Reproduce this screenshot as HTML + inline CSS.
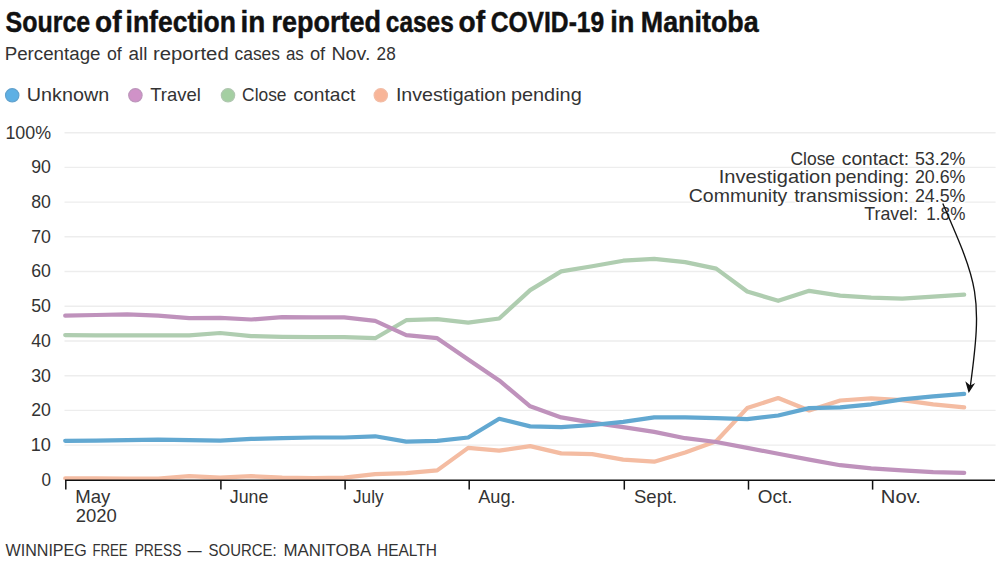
<!DOCTYPE html>
<html lang="en">
<head>
<meta charset="utf-8">
<title>Source of infection in reported cases of COVID-19 in Manitoba</title>
<style>
html,body{margin:0;padding:0;background:#fff;}
body{width:1000px;height:561px;overflow:hidden;}
svg{display:block;}
svg text{font-family:"Liberation Sans",sans-serif;fill:#333;white-space:pre;}
svg text.ttl{font-size:28.6px;font-weight:bold;fill:#111;stroke:#111;stroke-width:0.45px;}
svg text.sub{font-size:18.0px;}
svg text.lg{font-size:18.2px;}
svg text.ax{font-size:18.2px;}
svg text.ft{font-size:16.2px;}
svg text.an{paint-order:stroke;stroke:#fff;stroke-width:3px;stroke-linejoin:round;}
</style>
</head>
<body>
<svg width="1000" height="561" viewBox="0 0 1000 561">
<g stroke="#ededed" stroke-width="1.4"><line x1="64.5" x2="995.6" y1="445.1" y2="445.1"/><line x1="64.5" x2="995.6" y1="410.4" y2="410.4"/><line x1="64.5" x2="995.6" y1="375.7" y2="375.7"/><line x1="64.5" x2="995.6" y1="341.0" y2="341.0"/><line x1="64.5" x2="995.6" y1="306.2" y2="306.2"/><line x1="64.5" x2="995.6" y1="271.5" y2="271.5"/><line x1="64.5" x2="995.6" y1="236.8" y2="236.8"/><line x1="64.5" x2="995.6" y1="202.1" y2="202.1"/><line x1="64.5" x2="995.6" y1="167.4" y2="167.4"/><line x1="64.5" x2="995.6" y1="132.7" y2="132.7"/></g>
<circle cx="12.2" cy="95.3" r="6.7" fill="#5eb0e4" stroke="#62a2cd" stroke-width="1.2"/><circle cx="135.4" cy="95.3" r="6.7" fill="#d092c8" stroke="#bd97bc" stroke-width="1.2"/><circle cx="228.0" cy="95.3" r="6.7" fill="#a4cfa2" stroke="#b0c7b0" stroke-width="1.2"/><circle cx="380.8" cy="95.3" r="6.7" fill="#f8b598" stroke="#f2bda6" stroke-width="1.2"/>
<g fill="none" stroke-width="4.2" stroke-linecap="round" stroke-linejoin="round">
<path stroke="#afcdb0" d="M65.2,335.1 L96.2,335.4 L127.2,335.4 L158.2,335.4 L189.2,335.4 L220.2,333.0 L251.2,336.1 L282.2,336.8 L313.2,337.1 L344.2,337.1 L375.2,338.2 L406.2,320.2 L437.2,319.1 L468.2,322.6 L499.2,318.5 L530.2,290.1 L561.2,271.4 L592.2,266.2 L623.2,260.7 L654.2,258.9 L685.2,262.1 L716.2,268.6 L747.2,291.5 L778.2,300.8 L809.2,290.8 L840.2,295.6 L871.2,297.7 L902.2,298.7 L933.2,296.7 L964.2,294.6"/>
<path stroke="#f4bca2" d="M65.2,478.3 L96.2,478.3 L127.2,478.5 L158.2,478.5 L189.2,476.2 L220.2,477.6 L251.2,476.2 L282.2,477.6 L313.2,478.0 L344.2,477.6 L375.2,474.2 L406.2,473.1 L437.2,470.4 L468.2,447.9 L499.2,450.6 L530.2,446.1 L561.2,453.4 L592.2,454.1 L623.2,459.6 L654.2,461.7 L685.2,452.4 L716.2,441.3 L747.2,408.1 L778.2,398.0 L809.2,410.5 L840.2,400.5 L871.2,398.4 L902.2,400.1 L933.2,404.3 L964.2,407.4"/>
<path stroke="#bf92bc" d="M65.2,315.7 L96.2,315.0 L127.2,314.3 L158.2,315.7 L189.2,318.1 L220.2,317.8 L251.2,319.5 L282.2,317.1 L313.2,317.4 L344.2,317.4 L375.2,320.9 L406.2,335.1 L437.2,338.2 L468.2,359.6 L499.2,380.4 L530.2,406.3 L561.2,417.4 L592.2,422.6 L623.2,427.1 L654.2,431.9 L685.2,438.2 L716.2,442.0 L747.2,447.9 L778.2,453.7 L809.2,459.6 L840.2,465.2 L871.2,468.3 L902.2,470.4 L933.2,472.1 L964.2,472.9"/>
<path stroke="#62a8d1" d="M65.2,440.8 L96.2,440.6 L127.2,440.2 L158.2,439.6 L189.2,440.2 L220.2,440.6 L251.2,438.9 L282.2,438.2 L313.2,437.5 L344.2,437.5 L375.2,436.3 L406.2,441.6 L437.2,440.9 L468.2,437.5 L499.2,418.8 L530.2,426.4 L561.2,427.1 L592.2,425.0 L623.2,421.9 L654.2,417.4 L685.2,417.4 L716.2,418.1 L747.2,419.1 L778.2,415.5 L809.2,408.1 L840.2,407.4 L871.2,404.3 L902.2,399.4 L933.2,396.3 L964.2,393.9"/>
</g>
<g stroke="#111" stroke-width="1.5"><line x1="65" x2="995" y1="480.3" y2="480.3"/><line x1="65.8" x2="65.8" y1="480.3" y2="489.6"/><line x1="220.9" x2="220.9" y1="480.3" y2="489.6"/><line x1="345.1" x2="345.1" y1="480.3" y2="489.6"/><line x1="469.2" x2="469.2" y1="480.3" y2="489.6"/><line x1="624.3" x2="624.3" y1="480.3" y2="489.6"/><line x1="748.5" x2="748.5" y1="480.3" y2="489.6"/><line x1="872.6" x2="872.6" y1="480.3" y2="489.6"/></g>
<text class="ttl" y="31.7"><tspan x="5.50" textLength="84.69" lengthAdjust="spacingAndGlyphs">Source</tspan> <tspan x="95.12" textLength="26.41" lengthAdjust="spacingAndGlyphs">of</tspan> <tspan x="125.55" textLength="110.41" lengthAdjust="spacingAndGlyphs">infection</tspan> <tspan x="240.45" textLength="24.78" lengthAdjust="spacingAndGlyphs">in</tspan> <tspan x="271.46" textLength="109.43" lengthAdjust="spacingAndGlyphs">reported</tspan> <tspan x="385.85" textLength="67.93" lengthAdjust="spacingAndGlyphs">cases</tspan> <tspan x="458.52" textLength="26.51" lengthAdjust="spacingAndGlyphs">of</tspan> <tspan x="490.64" textLength="113.64" lengthAdjust="spacingAndGlyphs">COVID-19</tspan> <tspan x="610.20" textLength="24.20" lengthAdjust="spacingAndGlyphs">in</tspan> <tspan x="640.76" textLength="117.91" lengthAdjust="spacingAndGlyphs">Manitoba</tspan></text>
<text class="sub" y="59.6"><tspan x="4.66" textLength="95.85" lengthAdjust="spacingAndGlyphs">Percentage</tspan> <tspan x="107.00" textLength="14.81" lengthAdjust="spacingAndGlyphs">of</tspan> <tspan x="128.60" textLength="18.85" lengthAdjust="spacingAndGlyphs">all</tspan> <tspan x="152.97" textLength="75.77" lengthAdjust="spacingAndGlyphs">reported</tspan> <tspan x="234.50" textLength="45.50" lengthAdjust="spacingAndGlyphs">cases</tspan> <tspan x="285.90" textLength="17.90" lengthAdjust="spacingAndGlyphs">as</tspan> <tspan x="309.90" textLength="15.28" lengthAdjust="spacingAndGlyphs">of</tspan> <tspan x="331.41" textLength="38.99" lengthAdjust="spacingAndGlyphs">Nov.</tspan> <tspan x="376.60" textLength="19.11" lengthAdjust="spacingAndGlyphs">28</tspan></text>
<text class="lg" y="100.8"><tspan x="26.81" textLength="82.40" lengthAdjust="spacingAndGlyphs">Unknown</tspan></text>
<text class="lg" y="100.8"><tspan x="150.20" textLength="50.66" lengthAdjust="spacingAndGlyphs">Travel</tspan></text>
<text class="lg" y="100.8"><tspan x="242.10" textLength="44.41" lengthAdjust="spacingAndGlyphs">Close</tspan> <tspan x="293.50" textLength="61.86" lengthAdjust="spacingAndGlyphs">contact</tspan></text>
<text class="lg" y="100.8"><tspan x="395.92" textLength="110.28" lengthAdjust="spacingAndGlyphs">Investigation</tspan> <tspan x="510.91" textLength="70.81" lengthAdjust="spacingAndGlyphs">pending</tspan></text>
<text class="ft" y="555.8"><tspan x="5.60" textLength="81.19" lengthAdjust="spacingAndGlyphs">WINNIPEG</tspan> <tspan x="92.38" textLength="35.25" lengthAdjust="spacingAndGlyphs">FREE</tspan> <tspan x="134.64" textLength="46.98" lengthAdjust="spacingAndGlyphs">PRESS</tspan> <tspan x="187.60" textLength="14.09" lengthAdjust="spacingAndGlyphs">—</tspan> <tspan x="208.60" textLength="68.11" lengthAdjust="spacingAndGlyphs">SOURCE:</tspan> <tspan x="283.47" textLength="86.82" lengthAdjust="spacingAndGlyphs">MANITOBA</tspan> <tspan x="377.04" textLength="59.92" lengthAdjust="spacingAndGlyphs">HEALTH</tspan></text>
<text class="ax an" y="165.4"><tspan x="790.40" textLength="44.71" lengthAdjust="spacingAndGlyphs">Close</tspan> <tspan x="841.80" textLength="67.31" lengthAdjust="spacingAndGlyphs">contact:</tspan> <tspan x="914.90" textLength="50.47" lengthAdjust="spacingAndGlyphs">53.2%</tspan></text>
<text class="ax an" y="183.4"><tspan x="718.80" textLength="112.63" lengthAdjust="spacingAndGlyphs">Investigation</tspan> <tspan x="834.94" textLength="74.18" lengthAdjust="spacingAndGlyphs">pending:</tspan> <tspan x="914.90" textLength="50.47" lengthAdjust="spacingAndGlyphs">20.6%</tspan></text>
<text class="ax an" y="201.8"><tspan x="688.80" textLength="98.53" lengthAdjust="spacingAndGlyphs">Community</tspan> <tspan x="794.20" textLength="114.73" lengthAdjust="spacingAndGlyphs">transmission:</tspan> <tspan x="914.90" textLength="50.47" lengthAdjust="spacingAndGlyphs">24.5%</tspan></text>
<text class="ax an" y="220.1"><tspan x="864.30" textLength="53.73" lengthAdjust="spacingAndGlyphs">Travel:</tspan> <tspan x="926.36" textLength="39.00" lengthAdjust="spacingAndGlyphs">1.8%</tspan></text>
<text class="ax" y="502.8"><tspan x="75.23" textLength="35.10" lengthAdjust="spacingAndGlyphs">May</tspan></text>
<text class="ax" y="521.5"><tspan x="75.75" textLength="41.12" lengthAdjust="spacingAndGlyphs">2020</tspan></text>
<text class="ax" y="502.8"><tspan x="229.80" textLength="38.51" lengthAdjust="spacingAndGlyphs">June</tspan></text>
<text class="ax" y="502.8"><tspan x="353.00" textLength="30.54" lengthAdjust="spacingAndGlyphs">July</tspan></text>
<text class="ax" y="502.8"><tspan x="478.20" textLength="37.45" lengthAdjust="spacingAndGlyphs">Aug.</tspan></text>
<text class="ax" y="502.8"><tspan x="634.00" textLength="43.27" lengthAdjust="spacingAndGlyphs">Sept.</tspan></text>
<text class="ax" y="502.8"><tspan x="757.80" textLength="34.70" lengthAdjust="spacingAndGlyphs">Oct.</tspan></text>
<text class="ax" y="502.8"><tspan x="880.89" textLength="40.08" lengthAdjust="spacingAndGlyphs">Nov.</tspan></text>
<text class="ax" y="485.7"><tspan x="41.40" textLength="9.51" lengthAdjust="spacingAndGlyphs">0</tspan></text>
<text class="ax" y="451.0"><tspan x="30.70" textLength="20.21" lengthAdjust="spacingAndGlyphs">10</tspan></text>
<text class="ax" y="416.3"><tspan x="31.20" textLength="19.71" lengthAdjust="spacingAndGlyphs">20</tspan></text>
<text class="ax" y="381.6"><tspan x="31.20" textLength="19.71" lengthAdjust="spacingAndGlyphs">30</tspan></text>
<text class="ax" y="346.9"><tspan x="31.20" textLength="19.71" lengthAdjust="spacingAndGlyphs">40</tspan></text>
<text class="ax" y="312.1"><tspan x="31.20" textLength="19.71" lengthAdjust="spacingAndGlyphs">50</tspan></text>
<text class="ax" y="277.4"><tspan x="31.20" textLength="19.71" lengthAdjust="spacingAndGlyphs">60</tspan></text>
<text class="ax" y="242.7"><tspan x="31.20" textLength="19.71" lengthAdjust="spacingAndGlyphs">70</tspan></text>
<text class="ax" y="208.0"><tspan x="31.20" textLength="19.71" lengthAdjust="spacingAndGlyphs">80</tspan></text>
<text class="ax" y="173.3"><tspan x="31.20" textLength="19.71" lengthAdjust="spacingAndGlyphs">90</tspan></text>
<text class="ax" y="138.6"><tspan x="5.42" textLength="45.65" lengthAdjust="spacingAndGlyphs">100%</tspan></text>
<path d="M942.8,203.6 C978.2,284.8 982.7,295 970.3,386.5" fill="none" stroke="#111" stroke-width="1.35"/>
<path d="M968.7,393 L965.3,381.2 L970.3,385.4 L975.2,383 Z" fill="#111"/>
</svg>
</body>
</html>
